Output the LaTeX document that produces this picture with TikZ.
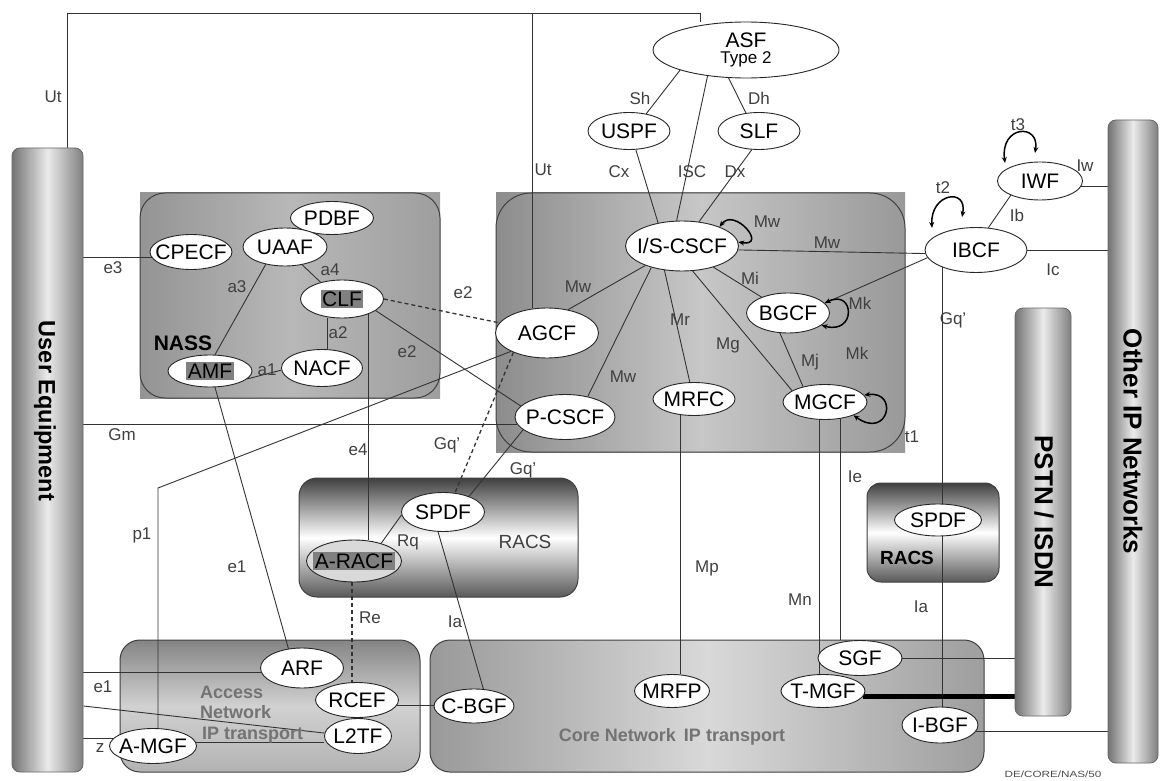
\documentclass[tikz,border=0pt]{standalone}
\usepackage{fontspec}
\setmainfont{Liberation Sans}
\usetikzlibrary{shapes.geometric,arrows.meta}
\pgfdeclarelayer{boxes}
\pgfdeclarelayer{edges}
\pgfsetlayers{boxes,edges,main}
\newcommand\ntx[1]{\makebox[0pt][c]{#1}}
\newcommand\hlt[1]{{\setlength\fboxsep{1.5pt}\colorbox{black!50}{#1}}}
\begin{document}
\begin{tikzpicture}[x=1pt,y=-1pt,
  fn/.style={ellipse, draw=black!85, line width=0.9pt, fill=white, inner sep=0pt, font=\fontsize{21}{24}\selectfont},
  lbl/.style={font=\fontsize{17}{19}\selectfont, text=black!75, inner sep=0pt},
  conn/.style={draw=black!80, line width=0.9pt},
  dsh/.style={draw=black!80, line width=1.3pt, dash pattern=on 4pt off 3pt},
  lp/.style={draw=black, line width=1.5pt, {Stealth[length=6pt,width=5pt]}-{Stealth[length=6pt,width=5pt]}},
  bar/.style={rounded corners=8pt, draw=black!60, line width=0.8pt, left color=black!55, right color=black!50, middle color=black!8},
  bartxt/.style={font=\fontsize{26}{28}\selectfont\bfseries, text=black, inner sep=0pt},
  boxline/.style={draw=black!75, line width=1pt},
  boldlbl/.style={font=\fontsize{21}{24}\selectfont\bfseries, text=black, inner sep=0pt},
  acclbl/.style={font=\fontsize{18}{21}\selectfont\bfseries, text=black!55, inner sep=0pt}
]
\useasboundingbox (0,0) rectangle (1163,781);

% ---------- boxes ----------
\begin{pgfonlayer}{boxes}
\fill[white] (0,0) rectangle (1163,781);
% NASS
\fill[left color=black!42, right color=black!38, middle color=black!28] (140,193) rectangle (440,398);
\draw[boxline, rounded corners=25pt] (140,193) rectangle (440,398);
% IMS
\fill[left color=black!45, right color=black!40, middle color=black!22] (496,193) rectangle (905,452);
\draw[boxline, rounded corners=35pt] (496,193) rectangle (905,452);
% RACS middle
\draw[boxline, rounded corners=18pt, top color=black!75, bottom color=black!65, middle color=white] (299,478) rectangle (578,597);
% RACS right
\draw[boxline, rounded corners=14pt, top color=black!75, bottom color=black!65, middle color=white] (867,483) rectangle (999,582);
% Access network
\draw[boxline, rounded corners=20pt, top color=black!48, bottom color=black!30, middle color=black!18] (120,640) rectangle (420,772);
% Core network
\draw[boxline, rounded corners=20pt, left color=black!40, right color=black!38, middle color=black!15] (430,640) rectangle (984,772);
\end{pgfonlayer}

% ---------- bars ----------
\node[bar, minimum width=71, minimum height=624] (ue) at (47.5,460) {};
\node[bar, minimum width=50, minimum height=643] (oip) at (1133,441.5) {};
\node[bar, minimum width=56, minimum height=408] (pstn) at (1043,512) {};
\node[bartxt, rotate=-90, font=\fontsize{23.5}{26}\selectfont\bfseries] (uet) at (45,411) {User Equipment};
\node[bartxt, rotate=-90] (oipt) at (1133,441.5) {Other IP Networks};
\node[bartxt, rotate=-90] (pstnt) at (1044,512) {PSTN / ISDN};

% ---------- functional entities ----------
\node[fn, minimum width=186, minimum height=56] (asf) at (746,50) {\ntx{\shortstack{ASF\\[1pt]{\fontsize{17}{19}\selectfont Type 2}}}};
\node[fn, minimum width=82, minimum height=37] (uspf) at (629,131) {\ntx{USPF}};
\node[fn, minimum width=82, minimum height=37] (slf) at (759,131) {\ntx{SLF}};
\node[fn, minimum width=113, minimum height=50] (iscscf) at (682,246) {\ntx{I/S-CSCF}};
\node[fn, minimum width=103, minimum height=50] (agcf) at (547,333) {\ntx{AGCF}};
\node[fn, minimum width=100, minimum height=45] (pcscf) at (565,417) {\ntx{P-CSCF}};
\node[fn, minimum width=82, minimum height=33] (mrfc) at (694,399) {\ntx{MRFC}};
\node[fn, minimum width=83, minimum height=40] (bgcf) at (788,313) {\ntx{BGCF}};
\node[fn, minimum width=84, minimum height=35] (mgcf) at (825,402) {\ntx{MGCF}};
\node[fn, minimum width=102, minimum height=45] (ibcf) at (976,250) {\ntx{IBCF}};
\node[fn, minimum width=85, minimum height=38] (iwf) at (1040,181) {\ntx{IWF}};
\node[fn, minimum width=83, minimum height=33] (pdbf) at (332,218) {\ntx{PDBF}};
\node[fn, minimum width=84, minimum height=38] (uaaf) at (285,247) {\ntx{UAAF}};
\node[fn, minimum width=82, minimum height=35] (cpecf) at (191,252) {\ntx{CPECF}};
\node[fn, minimum width=83, minimum height=38] (clf) at (342,299) {\ntx{\hlt{CLF}}};
\node[fn, minimum width=81, minimum height=37] (nacf) at (322,368) {\ntx{NACF}};
\node[fn, minimum width=84, minimum height=32] (amf) at (210,371) {\ntx{\hlt{AMF}}};
\node[fn, minimum width=83, minimum height=39] (spdf) at (443,512) {\ntx{SPDF}};
\node[fn, minimum width=95, minimum height=42, fill=black!15] (aracf) at (354,561) {\ntx{\hlt{A-RACF}}};
\node[fn, minimum width=87, minimum height=32] (spdfr) at (938,520) {\ntx{SPDF}};
\node[fn, minimum width=83, minimum height=40] (arf) at (302,668) {\ntx{ARF}};
\node[fn, minimum width=83, minimum height=35] (rcef) at (357,700) {\ntx{RCEF}};
\node[fn, minimum width=67, minimum height=35] (l2tf) at (358,736) {\ntx{L2TF}};
\node[fn, minimum width=87, minimum height=35] (amgf) at (153,746) {\ntx{A-MGF}};
\node[fn, minimum width=80, minimum height=34] (cbgf) at (474,706) {\ntx{C-BGF}};
\node[fn, minimum width=75, minimum height=33] (mrfp) at (672,691) {\ntx{MRFP}};
\node[fn, minimum width=84, minimum height=33] (tmgf) at (823,691) {\ntx{T-MGF}};
\node[fn, minimum width=84, minimum height=35] (sgf) at (860,658) {\ntx{SGF}};
\node[fn, minimum width=76, minimum height=36] (ibgf) at (940,725) {\ntx{I-BGF}};

% ---------- connectors ----------
\begin{pgfonlayer}{edges}
\coordinate (ut1) at (67,13);
\coordinate (ut2) at (700,13);
\coordinate (ut3) at (532,13);
\coordinate (p1c) at (158,488);
\draw[conn] (ue.north -| ut1) -- (ut1) -- (ut2) -- (ut2 |- asf.north);
\draw[conn] (ut3) -- (ut3 |- agcf.north);
% ASF area
\draw[conn] (asf.-163) -- (uspf.45);
\draw[conn] (asf.-146) -- (iscscf.102);
\draw[conn] (asf.-122) -- (slf.126);
\draw[conn] (uspf.-70) -- (iscscf.136);
\draw[conn] (slf.-111) -- (iscscf.55);
% IMS
\draw[conn] (iscscf.-152) -- (agcf.48);
\draw[conn] (iscscf.-145) -- (pcscf.42);
\draw[conn] (iscscf.-126) -- (mrfc.104);
\draw[conn] (iscscf.-67) -- (mgcf.161);
\draw[conn] (iscscf.-34) -- (bgcf.149);
\draw[conn] (bgcf.-112) -- (mgcf.145);
\draw[conn] (iscscf.-4) -- (ibcf.-176);
\draw[conn] (ibcf.-171) -- (bgcf.15);
\draw[conn] (iwf.-154) -- (ibcf.61);
\draw[conn] (ibcf.east) -- (ibcf.east -| oip.west);
\draw[conn] (iwf.-8) -- (iwf.-8 -| oip.west);
% NASS
\draw[conn] (cpecf.-172) -- (cpecf.-172 -| ue.east);
\draw[conn] (uaaf.-138) -- (amf.73);
\draw[conn] (uaaf.-46) -- (clf.142);
\draw[conn] (nacf.75) -- (nacf.75 |- clf.south);
\draw[conn] (amf.-12) -- (nacf.-177);
\draw[dsh] (clf.east) -- (agcf.168);
\draw[conn] (clf.-19) -- (pcscf.166);
\draw[conn] (clf.-29) -- (clf.-29 |- aracf.north);
\draw[conn] (amf.-73) -- (arf.125);
% Gm, p1
\draw[conn] (pcscf.-171) -- (pcscf.-171 -| ue.east);
\draw[conn] (p1c |- amgf.north) -- (p1c) -- (agcf.-153);
% RACS
\draw[dsh] (agcf.-150) -- (spdf.58);
\draw[conn] (pcscf.-163) -- (spdf.31);
\draw[conn] (spdf.-176) -- (aracf.33);
\draw[conn] (spdf.-104) -- (cbgf.61);
\draw[dsh] (aracf.-95) -- (aracf.-95 |- rcef.north);
% access network
\draw[conn] (arf.-174) -- (arf.-174 -| ue.east);
\draw[conn] (ue.east |- 0,706) -- (l2tf.175);
\draw[conn] (amgf.170) -- (amgf.170 -| ue.east);
\draw[conn] (amgf.5) -- (amgf.5 -| l2tf.west);
\draw[conn] (rcef.-8) -- (rcef.-8 -| cbgf.west);
% core
\draw[conn] (mrfc.-131) -- (mrfc.-131 |- mrfp.north);
\draw[conn] (mgcf.-106) -- (mgcf.-106 |- tmgf.north);
\draw[conn] (mgcf.-47) -- (mgcf.-47 |- sgf.north);
\draw[conn] (ibcf.-153) -- (ibcf.-153 |- spdfr.north);
\draw[conn] (ibcf.-153 |- spdfr.south) -- (ibcf.-153 |- ibgf.north);
\draw[conn] (sgf.east) -- (sgf.east -| pstn.west);
\draw[draw=black, line width=4.5pt] (tmgf.-8) -- (tmgf.-8 -| pstn.west);
\draw[conn] (ibgf.-10) -- (ibgf.-10 -| oip.west);
\end{pgfonlayer}

% ---------- loops ----------
\draw[lp] (iscscf.27) .. controls +(15,-20) and +(30,5) .. (iscscf.4);
\draw[lp] (bgcf.15) .. controls +(30,-15) and +(35,10) .. (bgcf.-20);
\draw[lp] (mgcf.10) .. controls +(35,-5) and +(35,25) .. (mgcf.-25);
\draw[lp] ([shift={(-44pt,22pt)}]ibcf.center) .. controls +(-2,-35) and +(6,-30) .. ([shift={(-14pt,33pt)}]ibcf.center);
\draw[lp] ([shift={(-35pt,18pt)}]iwf.center) .. controls +(-5,-38) and +(5,-30) .. ([shift={(-5pt,28pt)}]iwf.center);

% ---------- labels ----------
\node[lbl] (lut1) at (53,97) {Ut};
\node[lbl] (lut2) at (543,170) {Ut};
\node[lbl] (lsh) at (640,98) {Sh};
\node[lbl] (ldh) at (759,98) {Dh};
\node[lbl] (lcx) at (619,172) {Cx};
\node[lbl] (lisc) at (692,172) {ISC};
\node[lbl] (ldx) at (735,172) {Dx};
\node[lbl] (lmw1) at (767,222) {Mw};
\node[lbl] (lmw2) at (827,243) {Mw};
\node[lbl] (lmw3) at (578,287) {Mw};
\node[lbl] (lmi) at (750,278) {Mi};
\node[lbl] (lmr) at (680,320) {Mr};
\node[lbl] (lmg) at (728,345) {Mg};
\node[lbl] (lmk1) at (860,303) {Mk};
\node[lbl] (lmk2) at (857,353) {Mk};
\node[lbl] (lmj) at (810,362) {Mj};
\node[lbl] (lmw4) at (623,377) {Mw};
\node[lbl] (lt1) at (912,437) {t1};
\node[lbl] (lt2) at (943,188) {t2};
\node[lbl] (lt3) at (1018,125) {t3};
\node[lbl] (liw) at (1085,166) {Iw};
\node[lbl] (lib) at (1017,215) {Ib};
\node[lbl] (lic) at (1053,270) {Ic};
\node[lbl] (lgq1) at (953,320) {Gq'};
\node[lbl] (le3) at (113,268) {e3};
\node[lbl] (lgm) at (122,435) {Gm};
\node[lbl] (la3) at (237,287) {a3};
\node[lbl] (la4) at (330,270) {a4};
\node[lbl] (la2) at (338,333) {a2};
\node[lbl] (la1) at (267,370) {a1};
\node[lbl] (le2a) at (463,293) {e2};
\node[lbl] (le2b) at (407,352) {e2};
\node[lbl] (le4) at (358,450) {e4};
\node[lbl] (lp1) at (142,535) {p1};
\node[lbl] (le1a) at (237,567) {e1};
\node[lbl] (lgq2) at (447,445) {Gq'};
\node[lbl] (lgq3) at (523,470) {Gq'};
\node[lbl] (lrq) at (408,542) {Rq};
\node[lbl] (lre) at (370,618) {Re};
\node[lbl] (lia1) at (455,622) {Ia};
\node[lbl] (le1b) at (103,687) {e1};
\node[lbl] (lz) at (100,748) {z};
\node[lbl] (lmp) at (707,568) {Mp};
\node[lbl] (lmn) at (800,600) {Mn};
\node[lbl] (lie) at (855,477) {Ie};
\node[lbl] (lia2) at (921,607) {Ia};
\node[boldlbl] (lnass) at (183,343) {NASS};
\node[lbl, font=\fontsize{19}{21}\selectfont] (lracs1) at (525,542) {RACS};
\node[boldlbl, font=\fontsize{19}{21}\selectfont\bfseries] (lracs2) at (907,558) {RACS};
\node[acclbl, anchor=west] (lacc1) at (200,692) {Access};
\node[acclbl, anchor=west] (lacc2) at (200,712) {Network};
\node[acclbl, anchor=west] (lacc3) at (202,735) {IP transport};
\node[acclbl] (lcore) at (672,737) {Core Network\hspace{8pt}IP transport};
\node[font=\fontsize{9}{10}\selectfont, xscale=1.3, text=black!70, inner sep=0pt] (ldoc) at (1053,774) {DE/CORE/NAS/50};
\end{tikzpicture}
\end{document}
